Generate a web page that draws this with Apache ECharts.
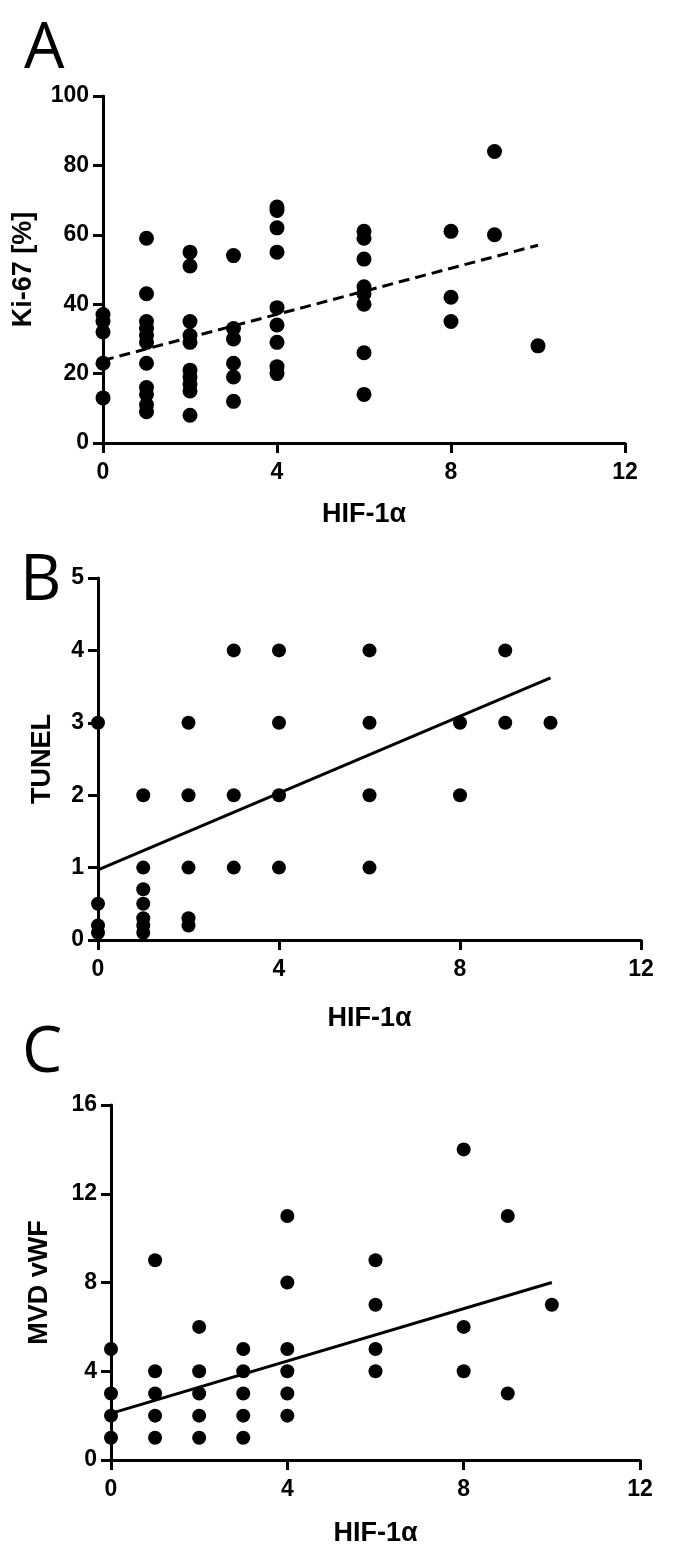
<!DOCTYPE html>
<html>
<head>
<meta charset="utf-8">
<script src="https://cdn.jsdelivr.net/npm/echarts@6/dist/echarts.min.js"></script>
<style>
html,body{margin:0;padding:0;background:#fff;}
#chart{width:685px;height:1549px;}
</style>
</head>
<body>
<div id="chart"></div>
<script>
// HIF-1α score groups and measured values
var kiX =   [0,0,0,0,0, 1,1,1,1,1,1,1,1,1,1,1, 2,2,2,2,2,2,2,2,2,2, 3,3,3,3,3,3, 4,4,4,4,4,4,4,4,4, 6,6,6,6,6,6,6,6, 8,8,8, 9,9, 10];
var kiY =   [37,35,32,23,13, 59,43,35,33,31,29,23,16,14,11,9, 55,51,35,31,29,21,19,17,15,8, 54,33,30,23,19,12, 68,67,62,55,39,34,29,22,20, 61,59,53,45,43,40,26,14, 61,42,35, 84,60, 28];
var kiFitX = [0, 10];
var kiFitY = [23.8, 57];

var tunelX = [0,0,0,0, 1,1,1,1,1,1,1, 2,2,2,2,2, 3,3,3, 4,4,4,4, 6,6,6,6, 8,8, 9,9, 10];
var tunelY = [3,0.5,0.2,0.1, 2,1,0.7,0.5,0.3,0.2,0.1, 3,2,1,0.3,0.2, 4,2,1, 4,3,2,1, 4,3,2,1, 3,2, 4,3, 3];
var tunelFitX = [0, 10];
var tunelFitY = [0.97, 3.62];

var mvdX = [0,0,0,0, 1,1,1,1,1, 2,2,2,2,2, 3,3,3,3,3, 4,4,4,4,4,4, 6,6,6,6, 8,8,8, 9,9, 10];
var mvdY = [5,3,2,1, 9,4,3,2,1, 6,4,3,2,1, 5,4,3,2,1, 11,8,5,4,3,2, 9,7,5,4, 14,6,4, 11,3, 7];
var mvdFitX = [0, 10];
var mvdFitY = [2.1, 8.0];

var panelLetters = ['A', 'B', 'C'];
var xTitle = 'HIF-1α';
var yTitles = ['Ki-67 [%]', 'TUNEL', 'MVD vWF'];

function pairs(xs, ys){ return xs.map(function(x,i){ return [x, ys[i]]; }); }

var FONT = '"Liberation Sans", Arial, sans-serif';
var axisCommon = {
  axisLine:{show:true, onZero:false, lineStyle:{color:'#000', width:3}},
  axisTick:{show:true, inside:false, length:10, lineStyle:{color:'#000', width:3}},
  splitLine:{show:false},
  nameTextStyle:{fontFamily:FONT, fontWeight:'bold', fontSize:27, color:'#000'},
  axisLabel:{fontFamily:FONT, fontWeight:'bold', fontSize:23, color:'#000'}
};
function xAxis(idx, gap){
  return Object.assign({}, axisCommon, {
    type:'value', gridIndex:idx, min:0, max:12, interval:4,
    name:xTitle, nameLocation:'middle', nameGap:gap,
    axisLabel:Object.assign({}, axisCommon.axisLabel, {margin:18})
  });
}
function yAxis(idx, max, interval, gap){
  return Object.assign({}, axisCommon, {
    type:'value', gridIndex:idx, min:0, max:max, interval:interval,
    name:yTitles[idx], nameLocation:'middle', nameGap:gap, nameRotate:90,
    axisLabel:Object.assign({}, axisCommon.axisLabel, {margin:14})
  });
}
function scatter(idx, xs, ys, size){
  return {type:'scatter', xAxisIndex:idx, yAxisIndex:idx, data:pairs(xs,ys),
    symbol:'circle', symbolSize:size, itemStyle:{color:'#000', opacity:1}, clip:false, z:3};
}
function fit(idx, xs, ys, dashed){
  return {type:'line', xAxisIndex:idx, yAxisIndex:idx, data:pairs(xs,ys),
    symbol:'none', lineStyle:{color:'#000', width:3, type: dashed ? [11,6] : 'solid'},
    z:4, silent:true};
}

var chart = echarts.init(document.getElementById('chart'), null, {renderer:'canvas'});
chart.setOption({
  backgroundColor:'#fff',
  animation:false,
  graphic:[
    {type:'text', left:24, top:18, style:{text:panelLetters[0], font:'64px "Open Sans", "Liberation Sans", sans-serif', fill:'#000'}},
    {type:'text', left:20, top:550, style:{text:panelLetters[1], font:'64px "Open Sans", "Liberation Sans", sans-serif', fill:'#000'}},
    {type:'text', left:22, top:1022, style:{text:panelLetters[2], font:'64px "Open Sans", "Liberation Sans", sans-serif', fill:'#000'}}
  ],
  grid:[
    {left:103, top:96, width:522, height:347},
    {left:98, top:578, width:543, height:362},
    {left:111, top:1105, width:529, height:355}
  ],
  xAxis:[xAxis(0,58), xAxis(1,65), xAxis(2,60)],
  yAxis:[yAxis(0,100,20,66), yAxis(1,5,1,42), yAxis(2,16,4,58)],
  series:[
    scatter(0, kiX, kiY, 15), fit(0, kiFitX, kiFitY, true),
    scatter(1, tunelX, tunelY, 14), fit(1, tunelFitX, tunelFitY, false),
    scatter(2, mvdX, mvdY, 14), fit(2, mvdFitX, mvdFitY, false)
  ]
});
</script>
</body>
</html>
